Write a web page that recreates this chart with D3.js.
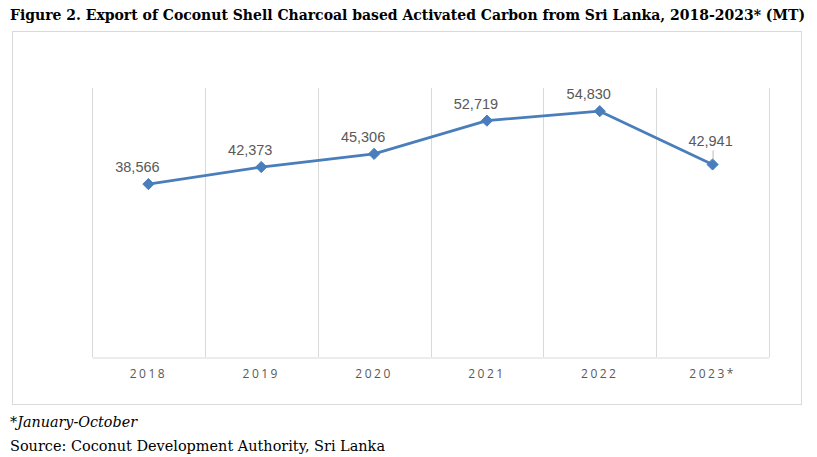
<!DOCTYPE html>
<html>
<head>
<meta charset="utf-8">
<script src="https://cdn.jsdelivr.net/npm/d3@7"></script>
<style>
	body { margin: 0; background: #fff; }
</style>
</head>
<body>
<div id="app"></div>
<script>
'use strict'

const years = ['2018', '2019', '2020', '2021', '2022', '2023*']
const exports = [38566, 42373, 45306, 52719, 54830, 42941]
const yDomain = [0, 60000]

const titleText = 'Figure 2. Export of Coconut Shell Charcoal based Activated Carbon from Sri Lanka, 2018-2023* (MT)'
const noteText = '*January-October'
const sourceText = 'Source: Coconut Development Authority, Sri Lanka'

const main = () => {
	const W = 817, H = 457
	const margin = { top: 88, right: 48, bottom: 100, left: 92 }
	const width = W - margin.left - margin.right
	const height = 357 - margin.top

	const root = d3.select('#app')
		.append('svg')
		.attr('width', W)
		.attr('height', H)

	// Title
	root.append('text')
		.attr('x', 10)
		.attr('y', 20)
		.attr('textLength', 795)
		.attr('lengthAdjust', 'spacingAndGlyphs')
		.style('font-family', '"DejaVu Serif Condensed", "DejaVu Serif", serif')
		.style('font-stretch', 'condensed')
		.style('font-weight', 'bold')
		.style('font-size', '15px')
		.style('fill', '#000')
		.text(titleText)

	// Chart border
	root.append('rect')
		.attr('x', 12.5)
		.attr('y', 31.5)
		.attr('width', 789)
		.attr('height', 373)
		.style('fill', 'none')
		.style('stroke', '#d9d9d9')

	const svg = root.append('g')
		.attr('transform', `translate(${margin.left}, ${margin.top})`)

	const x = d3.scaleBand()
		.domain(years)
		.range([0, width])

	const y = d3.scaleLinear()
		.domain(yDomain)
		.range([height, 0])

	// Vertical gridlines at band boundaries
	const bounds = years.map(d => x(d)).concat([width])
	svg.selectAll('.grid')
		.data(bounds)
		.enter().append('line')
		.attr('class', 'grid')
		.attr('x1', d => Math.round(d) + 0.5)
		.attr('x2', d => Math.round(d) + 0.5)
		.attr('y1', 0)
		.attr('y2', height)
		.style('stroke', '#d9d9d9')

	// X axis
	const xAxis = svg.append('g')
		.attr('transform', `translate(0, ${height + 0.5})`)
		.call(d3.axisBottom(x).tickSize(0).tickPadding(12))
	xAxis.select('.domain').style('stroke', '#d9d9d9')
	xAxis.selectAll('text')
		.style('font-family', '"Open Sans", sans-serif')
		.style('font-size', '12px')
		.style('letter-spacing', '2.5px')
		.style('fill', '#595959')

	const cx = d => x(d) + x.bandwidth() / 2

	// Line
	const line = d3.line()
		.x((d, i) => cx(years[i]))
		.y(d => y(d))

	svg.append('path')
		.datum(exports)
		.attr('d', line)
		.style('fill', 'none')
		.style('stroke', '#4a7ebb')
		.style('stroke-width', 2.75)
		.style('stroke-linejoin', 'round')

	// Diamond markers
	svg.selectAll('.marker')
		.data(exports)
		.enter().append('path')
		.attr('class', 'marker')
		.attr('d', d3.symbol(d3.symbolDiamond2, 80))
		.attr('transform', (d, i) => `translate(${cx(years[i])}, ${y(d)})`)
		.style('fill', '#4a7ebb')
		.style('stroke', '#4a7ebb')

	// Data labels (last one sits higher with a small leader line)
	const last = exports.length - 1
	const ldx = i => i === last ? -2 : -11
	const ldy = i => i === last ? -18 : -12

	svg.append('line')
		.attr('x1', cx(years[last]) + 0.5)
		.attr('x2', cx(years[last]) + 0.5)
		.attr('y1', y(exports[last]) - 14)
		.attr('y2', y(exports[last]) - 5)
		.style('stroke', '#a6a6a6')
		.style('stroke-width', 0.75)

	svg.selectAll('.label')
		.data(exports)
		.enter().append('text')
		.attr('class', 'label')
		.attr('x', (d, i) => cx(years[i]) + ldx(i))
		.attr('y', (d, i) => y(d) + ldy(i))
		.style('text-anchor', 'middle')
		.style('font-family', '"Liberation Sans", Arial, sans-serif')
		.style('font-size', '14.5px')
		.style('fill', '#595959')
		.text(d => d3.format(',')(d))

	// Footnotes
	root.append('text')
		.attr('x', 10)
		.attr('y', 427)
		.style('font-family', '"DejaVu Serif", serif')
		.style('font-style', 'italic')
		.style('font-size', '14px')
		.attr('textLength', 127)
		.attr('lengthAdjust', 'spacingAndGlyphs')
		.text(noteText)

	root.append('text')
		.attr('x', 10)
		.attr('y', 451)
		.style('font-family', '"DejaVu Serif", serif')
		.style('font-size', '14px')
		.attr('textLength', 375)
		.attr('lengthAdjust', 'spacingAndGlyphs')
		.text(sourceText)
}

main()
</script>
</body>
</html>
